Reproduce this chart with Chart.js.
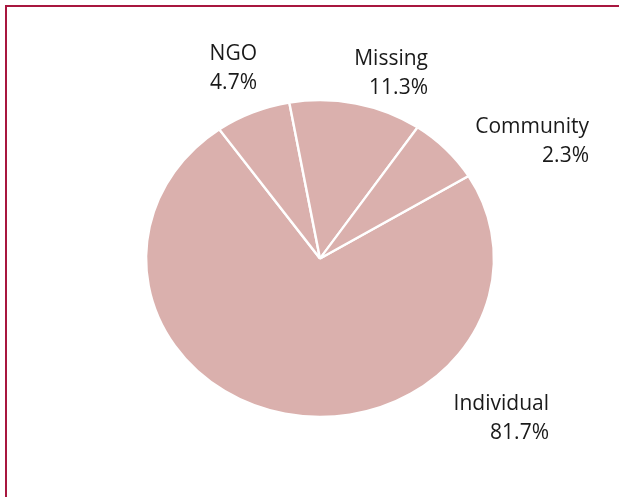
<!DOCTYPE html>
<html>
<head>
<meta charset="utf-8">
<script src="https://cdn.jsdelivr.net/npm/chart.js@4"></script>
<style>
  html, body { margin: 0; padding: 0; background: #fff; }
  #frame { position: absolute; left: 5px; top: 5px; width: 614px; height: 492px;
           border-top: 2px solid #a8173f; border-left: 2px solid #a8173f; }
  #wrap { position: absolute; left: 0; top: 0; width: 619px; height: 497px; }
</style>
</head>
<body>
<div id="frame"></div>
<div id="wrap"><canvas id="myChart" width="619" height="497"></canvas></div>
<script>
// slices, clockwise from the right side of the pie
const categories = ["Individual", "NGO", "Missing", "Community"];
const sliceValues = [73.9, 7.0, 12.3, 6.8];   // drawn share
const percentLabels = ["81.7%", "4.7%", "11.3%", "2.3%"];

// where each two-line label sits: right edge and first baseline
const labelSpots = [
  { x: 549, y: 410 },
  { x: 257, y: 60 },
  { x: 428, y: 65 },
  { x: 589, y: 133 }
];

const stretchX = 1.098; // the pie in the picture is a bit wider than tall

const stretchPlugin = {
  id: "stretch",
  beforeDatasetsDraw(chart) {
    const a = chart.getDatasetMeta(0).data[0];
    const ctx = chart.ctx;
    ctx.save();
    ctx.translate(a.x, a.y);
    ctx.scale(stretchX, 1);
    ctx.translate(-a.x, -a.y);
  },
  afterDatasetsDraw(chart) {
    chart.ctx.restore();
  }
};

const labelPlugin = {
  id: "outLabels",
  afterDraw(chart) {
    const ctx = chart.ctx;
    ctx.save();
    ctx.fillStyle = "#1a1a1a";
    ctx.font = "21px 'Open Sans'";
    ctx.textAlign = "right";
    ctx.textBaseline = "alphabetic";
    categories.forEach((c, i) => {
      const p = labelSpots[i];
      ctx.fillText(c, p.x, p.y);
      ctx.fillText(percentLabels[i], p.x, p.y + 28.5);
    });
    ctx.restore();
  }
};

const ctx = document.getElementById("myChart");
new Chart(ctx, {
  type: "pie",
  data: {
    labels: categories,
    datasets: [{
      data: sliceValues,
      backgroundColor: "#dab0ad",
      borderColor: "#ffffff",
      borderWidth: 2.2
    }]
  },
  options: {
    responsive: false,
    animation: false,
    rotation: 58.6,
    layout: { padding: { top: 99, bottom: 79, left: 160, right: 139 } },
    plugins: {
      legend: { display: false },
      tooltip: { enabled: false }
    }
  },
  plugins: [stretchPlugin, labelPlugin]
});
</script>
</body>
</html>
